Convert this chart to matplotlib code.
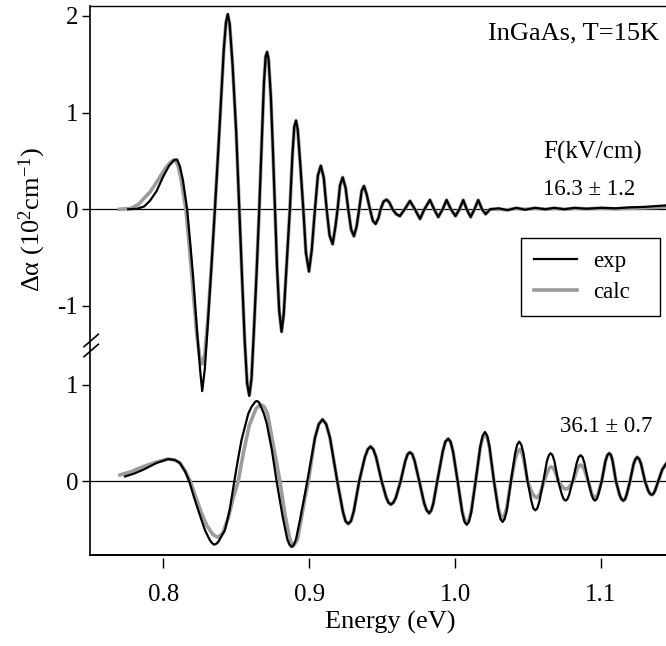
import matplotlib
matplotlib.use("Agg")
import matplotlib.pyplot as plt
from matplotlib.lines import Line2D

plt.rcParams['font.family'] = ['Liberation Serif', 'DejaVu Serif']
plt.rcParams['mathtext.fontset'] = 'custom'
plt.rcParams['mathtext.rm'] = 'Liberation Serif'
plt.rcParams['mathtext.it'] = 'Liberation Serif:italic'

# ---------------- data ----------------
# upper spectrum, F = 16.3 kV/cm : experiment
top_exp_E = [0.776, 0.782, 0.787, 0.791, 0.7955, 0.800, 0.804, 0.8075, 0.8095, 0.8115, 0.8135, 0.8164,
             0.8185, 0.8205, 0.8233, 0.8252, 0.8267, 0.8285, 0.8305, 0.8330, 0.8354, 0.8375, 0.8395,
             0.8415, 0.843, 0.8442, 0.8455, 0.8475, 0.850, 0.8521, 0.854, 0.8558, 0.8575, 0.859, 0.8605,
             0.862, 0.864, 0.8658, 0.8675, 0.869, 0.8702, 0.8712, 0.8722, 0.8738, 0.8752, 0.8766, 0.878,
             0.8795, 0.8811, 0.8826, 0.8845, 0.8868, 0.8885, 0.8898, 0.891, 0.8922, 0.894, 0.896, 0.8978,
             0.8999, 0.9018, 0.904, 0.906, 0.908, 0.910, 0.912, 0.914, 0.9161, 0.918, 0.9195, 0.9212,
             0.923, 0.925, 0.9268, 0.9288, 0.9307, 0.9325, 0.9343, 0.936, 0.9376, 0.9395, 0.9417, 0.9437,
             0.9456, 0.9475, 0.949, 0.951, 0.9531, 0.955, 0.9572, 0.9597, 0.9622, 0.9655, 0.9691, 0.9725,
             0.976, 0.979, 0.9828, 0.9857, 0.9885, 0.9915, 0.9942, 0.9972, 1.0003, 1.003, 1.0056, 1.008,
             1.0107, 1.0133, 1.0159, 1.0185, 1.021, 1.024, 1.030, 1.036, 1.042, 1.048, 1.055, 1.062, 1.068,
             1.075, 1.082, 1.090, 1.100, 1.110, 1.120, 1.130, 1.140, 1.1446]
top_exp_A = [0.0, 0.005, 0.03, 0.09, 0.19, 0.34, 0.45, 0.51, 0.515, 0.44, 0.30, 0.0,
             -0.35, -0.70, -1.28, -1.65, -1.88, -1.65, -1.20, -0.60, 0.0, 0.55, 1.10,
             1.65, 1.93, 2.02, 1.92, 1.50, 0.80, 0.0, -0.70, -1.35, -1.80, -1.93, -1.75,
             -1.30, -0.65, 0.0, 0.70, 1.30, 1.58, 1.63, 1.55, 1.15, 0.60, 0.0, -0.60,
             -1.05, -1.27, -1.08, -0.60, 0.0, 0.55, 0.85, 0.92, 0.82, 0.45, 0.0, -0.45,
             -0.645, -0.42, 0.0, 0.35, 0.45, 0.33, 0.0, -0.27, -0.36, -0.18, 0.0, 0.25,
             0.33, 0.22, 0.0, -0.21, -0.276, -0.18, 0.0, 0.19, 0.24, 0.15, 0.0, -0.12,
             -0.152, -0.09, 0.0, 0.08, 0.10, 0.07, 0.0, -0.05, -0.07, 0.0, 0.086, 0.0,
             -0.10, 0.0, 0.096, 0.0, -0.08, 0.0, 0.096, 0.0, -0.07, 0.0, 0.095, 0.0,
             -0.08, 0.0, 0.095, 0.0, -0.05, 0.0, 0.01, -0.01, 0.015, -0.005, 0.015, 0.0, 0.015,
             0.0, 0.015, 0.005, 0.015, 0.01, 0.02, 0.025, 0.035, 0.04]

# upper spectrum : calculation
top_calc_E = [0.770, 0.778, 0.783, 0.786, 0.791, 0.7955, 0.800, 0.8023, 0.806, 0.808, 0.810, 0.812, 0.8155,
              0.818, 0.8205, 0.823, 0.8252, 0.8267, 0.8285, 0.8305, 0.833, 0.8354, 0.8375, 0.8395,
              0.8415, 0.843, 0.8442, 0.8455, 0.8475, 0.850, 0.8521, 0.854, 0.8558, 0.8575, 0.859, 0.8605,
              0.862, 0.864, 0.8658, 0.8675, 0.869, 0.8702, 0.8712, 0.8722, 0.8738, 0.8752, 0.8766, 0.878,
              0.8795, 0.8811, 0.8826, 0.8845, 0.8868, 0.8885, 0.8898, 0.891, 0.8922, 0.894, 0.896, 0.8978,
              0.8999, 0.9018, 0.904, 0.906, 0.908, 0.910, 0.912, 0.914, 0.9161, 0.918, 0.9195, 0.9212,
              0.923, 0.925, 0.9268, 0.9288, 0.9307, 0.9325, 0.9343, 0.936, 0.9376, 0.9395, 0.9417, 0.9437,
              0.9456, 0.9475, 0.949, 0.951, 0.9531, 0.955, 0.9572, 0.9597, 0.9622, 0.9655, 0.9691, 0.9725,
              0.976, 0.979, 0.9828, 0.9857, 0.9885, 0.9915, 0.9942, 0.9972, 1.0003, 1.003, 1.0056, 1.008,
              1.0107, 1.0133, 1.0159, 1.0185, 1.021, 1.024, 1.030, 1.036, 1.042, 1.048, 1.055, 1.062, 1.068,
              1.075, 1.082, 1.090, 1.100, 1.110, 1.120, 1.130, 1.140, 1.1446]
top_calc_A = [0.0, 0.01, 0.05, 0.10, 0.18, 0.28, 0.39, 0.44, 0.50, 0.51, 0.46, 0.33, 0.0,
              -0.40, -0.85, -1.30, -1.55, -1.60, -1.50, -1.15, -0.60, 0.0, 0.55, 1.10,
              1.65, 1.93, 2.01, 1.92, 1.50, 0.80, 0.0, -0.70, -1.35, -1.80, -1.92, -1.75,
              -1.30, -0.65, 0.0, 0.70, 1.30, 1.58, 1.62, 1.55, 1.15, 0.60, 0.0, -0.60,
              -1.05, -1.26, -1.08, -0.60, 0.0, 0.55, 0.85, 0.91, 0.82, 0.45, 0.0, -0.45,
              -0.64, -0.42, 0.0, 0.35, 0.45, 0.33, 0.0, -0.27, -0.36, -0.18, 0.0, 0.25,
              0.33, 0.22, 0.0, -0.21, -0.28, -0.18, 0.0, 0.19, 0.24, 0.15, 0.0, -0.12,
              -0.15, -0.09, 0.0, 0.08, 0.10, 0.07, 0.0, -0.05, -0.07, 0.0, 0.086, 0.0,
              -0.10, 0.0, 0.096, 0.0, -0.08, 0.0, 0.096, 0.0, -0.07, 0.0, 0.095, 0.0,
              -0.08, 0.0, 0.095, 0.0, -0.05, 0.0, 0.0, -0.005, 0.01, 0.0, 0.01, 0.0, 0.01,
              0.0, 0.01, 0.005, 0.01, 0.005, 0.01, 0.015, 0.02, 0.025]

# lower spectrum, F = 36.1 kV/cm : experiment
bot_exp_E = [0.7738, 0.780, 0.7863, 0.7955, 0.8034, 0.808, 0.8114, 0.815, 0.8178, 0.821, 0.824, 0.8286,
             0.832, 0.8335, 0.835, 0.8365, 0.838, 0.8423, 0.8455, 0.8487, 0.8515, 0.8537, 0.8583, 0.8605,
             0.8632, 0.8644, 0.8657, 0.869, 0.8709, 0.8745, 0.8777, 0.8818, 0.885, 0.8865, 0.888, 0.8895,
             0.891, 0.8937, 0.8965, 0.8987,
             0.9040, 0.9066, 0.9092, 0.9117, 0.9143, 0.9193,
             0.9231, 0.9249, 0.9268, 0.9287, 0.9306, 0.9343,
             0.9382, 0.9402, 0.9421, 0.9440, 0.9459, 0.9497,
             0.9529, 0.9544, 0.9560, 0.9577, 0.9594, 0.9627,
             0.9659, 0.9675, 0.9691, 0.9707, 0.9723, 0.9755,
             0.9789, 0.9806, 0.9823, 0.9837, 0.9851, 0.9878,
             0.9916, 0.9934, 0.9953, 0.9969, 0.9986, 1.0018,
             1.0049, 1.0065, 1.0080, 1.0095, 1.0111, 1.0141,
             1.0173, 1.0189, 1.0205, 1.0221, 1.0236, 1.0267,
             1.0297, 1.0311, 1.0326, 1.0340, 1.0355, 1.0383,
             1.0412, 1.0426, 1.0440, 1.0454, 1.0469, 1.0497,
             1.0524, 1.0537, 1.0550, 1.0564, 1.0578, 1.0605,
             1.0630, 1.0643, 1.0655, 1.0668, 1.0681, 1.0707,
             1.0733, 1.0745, 1.0758, 1.0770, 1.0782, 1.0806,
             1.0834, 1.0847, 1.0861, 1.0874, 1.0887, 1.0913,
             1.0936, 1.0948, 1.0959, 1.0971, 1.0982, 1.1005,
             1.1031, 1.1044, 1.1057, 1.1069, 1.1080, 1.1103,
             1.1128, 1.1141, 1.1153, 1.1165, 1.1176, 1.1199,
             1.1224, 1.1237, 1.1249, 1.1262, 1.1275, 1.1302,
             1.1325, 1.1337, 1.1348, 1.1359, 1.1370, 1.1393,
             1.1420, 1.1446]
bot_exp_A = [0.05, 0.08, 0.12, 0.19, 0.23, 0.22, 0.19, 0.10, 0.0, -0.16, -0.30, -0.505,
             -0.61, -0.64, -0.655, -0.645, -0.62, -0.505, -0.30, 0.0, 0.25, 0.43, 0.70, 0.77,
             0.825, 0.83, 0.815, 0.70, 0.60, 0.32, 0.0, -0.36, -0.60, -0.655, -0.68, -0.655,
             -0.60, -0.40, -0.18, 0.0,
             0.45, 0.59, 0.64, 0.59, 0.45, 0.0,
             -0.31, -0.41, -0.44, -0.41, -0.31, 0.0,
             0.25, 0.33, 0.36, 0.33, 0.25, 0.0,
             -0.17, -0.22, -0.24, -0.22, -0.17, 0.0,
             0.21, 0.28, 0.30, 0.28, 0.21, 0.0,
             -0.23, -0.30, -0.33, -0.30, -0.23, 0.0,
             0.31, 0.41, 0.44, 0.41, 0.31, 0.0,
             -0.32, -0.42, -0.45, -0.42, -0.32, 0.0,
             0.36, 0.47, 0.51, 0.47, 0.36, 0.0,
             -0.30, -0.39, -0.42, -0.39, -0.30, 0.0,
             0.29, 0.38, 0.41, 0.38, 0.29, 0.0,
             -0.21, -0.28, -0.30, -0.28, -0.21, 0.0,
             0.21, 0.27, 0.29, 0.27, 0.21, 0.0,
             -0.14, -0.185, -0.20, -0.185, -0.14, 0.0,
             0.19, 0.25, 0.27, 0.25, 0.19, 0.0,
             -0.14, -0.185, -0.20, -0.185, -0.14, 0.0,
             0.21, 0.27, 0.29, 0.27, 0.21, 0.0,
             -0.14, -0.185, -0.20, -0.185, -0.14, 0.0,
             0.18, 0.23, 0.25, 0.23, 0.18, 0.0,
             -0.10, -0.13, -0.14, -0.13, -0.10, 0.0,
             0.12, 0.18]

# lower spectrum : calculation
bot_calc_E = [0.7703, 0.778, 0.786, 0.7955, 0.803, 0.808, 0.8114, 0.815, 0.8185, 0.822, 0.826, 0.830,
              0.834, 0.8377, 0.841, 0.8445, 0.848, 0.8514, 0.855, 0.859, 0.8635, 0.8655, 0.8674, 0.8692,
              0.8715, 0.8745, 0.880, 0.8835, 0.8865, 0.8878, 0.889, 0.8905, 0.892, 0.8945, 0.897, 0.8995,
              0.9040, 0.9066, 0.9092, 0.9117, 0.9143, 0.9193,
              0.9231, 0.9249, 0.9268, 0.9287, 0.9306, 0.9343,
              0.9382, 0.9402, 0.9421, 0.9440, 0.9459, 0.9497,
              0.9529, 0.9544, 0.9560, 0.9577, 0.9594, 0.9627,
              0.9659, 0.9675, 0.9691, 0.9707, 0.9723, 0.9755,
              0.9789, 0.9806, 0.9823, 0.9837, 0.9851, 0.9878,
              0.9916, 0.9934, 0.9953, 0.9969, 0.9986, 1.0018,
              1.0049, 1.0065, 1.0080, 1.0095, 1.0111, 1.0141,
              1.0173, 1.0189, 1.0205, 1.0221, 1.0236, 1.0267,
              1.0297, 1.0311, 1.0326, 1.0340, 1.0355, 1.0383,
              1.0412, 1.0428, 1.0445, 1.0458, 1.0472, 1.0497,
              1.0528, 1.0544, 1.0560, 1.0572, 1.0585, 1.0610,
              1.0635, 1.0648, 1.0660, 1.0672, 1.0685, 1.0710,
              1.0735, 1.0748, 1.0760, 1.0772, 1.0785, 1.0810,
              1.0835, 1.0848, 1.0860, 1.0873, 1.0887, 1.0913,
              1.0936, 1.0948, 1.0960, 1.0971, 1.0982, 1.1005,
              1.1031, 1.1044, 1.1057, 1.1069, 1.1080, 1.1103,
              1.1128, 1.1141, 1.1153, 1.1165, 1.1176, 1.1199,
              1.1224, 1.1237, 1.1249, 1.1262, 1.1275, 1.1302,
              1.1325, 1.1337, 1.1348, 1.1359, 1.1370, 1.1393,
              1.1420, 1.1446]
bot_calc_A = [0.065, 0.10, 0.15, 0.20, 0.23, 0.22, 0.19, 0.11, 0.0, -0.15, -0.32, -0.46,
              -0.55, -0.58, -0.53, -0.38, -0.17, 0.0, 0.30, 0.58, 0.75, 0.78, 0.79, 0.77,
              0.70, 0.45, 0.0, -0.35, -0.58, -0.64, -0.67, -0.64, -0.60, -0.40, -0.18, 0.0,
              0.45, 0.59, 0.64, 0.59, 0.45, 0.0,
              -0.31, -0.41, -0.44, -0.41, -0.31, 0.0,
              0.25, 0.33, 0.36, 0.33, 0.25, 0.0,
              -0.17, -0.22, -0.24, -0.22, -0.17, 0.0,
              0.21, 0.28, 0.30, 0.28, 0.21, 0.0,
              -0.23, -0.30, -0.33, -0.30, -0.23, 0.0,
              0.31, 0.41, 0.44, 0.41, 0.31, 0.0,
              -0.31, -0.40, -0.43, -0.40, -0.31, 0.0,
              0.35, 0.45, 0.49, 0.45, 0.35, 0.0,
              -0.28, -0.35, -0.38, -0.35, -0.27, 0.0,
              0.23, 0.30, 0.33, 0.30, 0.22, 0.0,
              -0.12, -0.155, -0.17, -0.155, -0.12, 0.0,
              0.105, 0.14, 0.15, 0.14, 0.105, 0.0,
              -0.055, -0.075, -0.08, -0.075, -0.055, 0.0,
              0.12, 0.155, 0.17, 0.155, 0.12, 0.0,
              -0.12, -0.155, -0.17, -0.155, -0.12, 0.0,
              0.21, 0.27, 0.29, 0.27, 0.21, 0.0,
              -0.14, -0.185, -0.20, -0.185, -0.14, 0.0,
              0.18, 0.23, 0.25, 0.23, 0.18, 0.0,
              -0.10, -0.13, -0.14, -0.13, -0.10, 0.0,
              0.12, 0.18]

offset_top = 2.813          # vertical offset of the upper spectrum
ytick_vals = [2, 1, 0, -1, 1, 0]
ytick_is_top = [True, True, True, True, False, False]
xtick_vals = [0.8, 0.9, 1.0, 1.1]
xtick_labels = ['0.8', '0.9', '1.0', '1.1']
field_labels = ['16.3 ± 1.2', '36.1 ± 0.7']

W, H = 666, 646
fig = plt.figure(figsize=(W / 100, H / 100), dpi=100)
ax = fig.add_axes([90 / W, (H - 555) / H, (W - 90) / W, (555 - 6) / H])
ax.set_xlim(0.7498, 1.1446)
ax.set_ylim(-0.762, 4.915)

# zero lines
ax.axhline(0, color='black', lw=0.9, zorder=1)
ax.axhline(offset_top, color='black', lw=0.9, zorder=1)

gray = '#9c9c9c'
calc_line, = ax.plot(top_calc_E, [v + offset_top for v in top_calc_A], color=gray, lw=2.6, zorder=2,
                     solid_joinstyle='round')
exp_line, = ax.plot(top_exp_E, [v + offset_top for v in top_exp_A], color='black', lw=1.6, zorder=3,
                    solid_joinstyle='round')
ax.plot(bot_calc_E, bot_calc_A, color=gray, lw=2.6, zorder=2, solid_joinstyle='round')
ax.plot(bot_exp_E, bot_exp_A, color='black', lw=1.6, zorder=3, solid_joinstyle='round')

# axes styling
ax.spines['right'].set_visible(False)
ax.spines['top'].set_linewidth(1.0)
ax.spines['left'].set_linewidth(1.2)
ax.spines['bottom'].set_position(('outward', 2.2))
ax.spines['bottom'].set_color('none')
ax.plot([0, 1], [0, 0], transform=ax.transAxes, color='black', lw=1.4, clip_on=False, zorder=4)

ax.set_xticks(xtick_vals)
ax.set_xticklabels(xtick_labels)
ax.set_yticks([v + offset_top if t else v for v, t in zip(ytick_vals, ytick_is_top)])
ax.set_yticklabels([str(v) for v in ytick_vals])
ax.tick_params(axis='x', direction='out', length=7, width=1.0, pad=12, labelsize=18, color='black')
ax.tick_params(axis='y', direction='out', length=5.5, width=1.0, pad=3, labelsize=18, color='black')

ax.set_xlabel('Energy (eV)', fontsize=19)
ax.xaxis.set_label_coords((390 - 90) / 576, (555 - 611) / 549)
fig.text(32 / W, 1 - 220 / H, 'Δα (10$^{2}$cm$^{-1}$)', rotation=90,
         ha='center', va='center', fontsize=19)

# axis break marks
for yb in (346.7, 356.7):
    ax.add_line(Line2D([(84 - 90) / 576, (98.3 - 90) / 576],
                       [(555 - yb) / 549, (555 - yb + 12.4) / 549],
                       transform=ax.transAxes, color='black', lw=1.2, clip_on=False))

fig.text(659 / W, 1 - 39 / H, 'InGaAs, T=15K', ha='right', va='baseline', fontsize=19)
fig.text(543 / W, 1 - 159 / H, 'F(kV/cm)', ha='left', va='baseline', fontsize=18)
fig.text(543 / W, 1 - 195 / H, field_labels[0], ha='left', va='baseline', fontsize=16.5)
fig.text(560 / W, 1 - 431.7 / H, field_labels[1], ha='left', va='baseline', fontsize=16.5)

leg = ax.legend([exp_line, calc_line], ['exp', 'calc'], loc='upper left', mode='expand',
                bbox_to_anchor=(521 / W, 1 - 313 / H, 139 / W, 75 / H), bbox_transform=fig.transFigure,
                fontsize=16.5, frameon=True, fancybox=False, framealpha=1, edgecolor='black',
                handlelength=1.9, handletextpad=0.7, labelspacing=0.45, borderpad=0.55,
                borderaxespad=0)
leg.get_frame().set_linewidth(1.0)

fig.savefig('out.png', dpi=100)
